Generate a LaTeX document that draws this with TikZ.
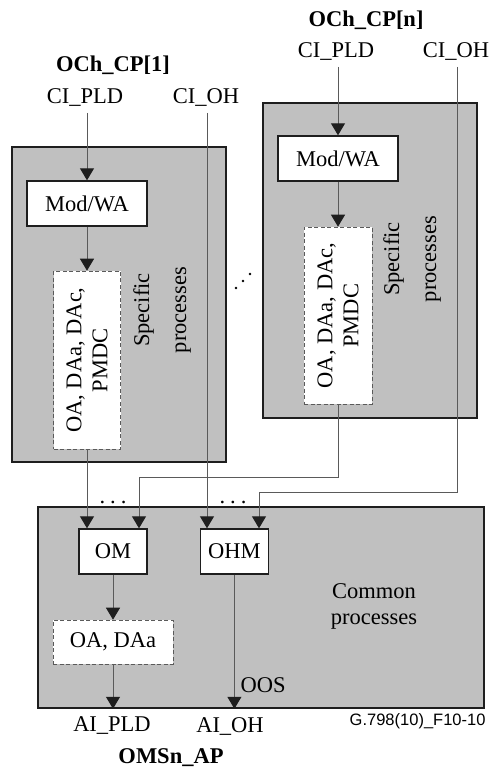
\documentclass[tikz,border=0pt]{standalone}
\usepackage{fontspec}
\setmainfont{Liberation Serif}
\newfontfamily\figsans{Liberation Sans}
\usepackage{xcolor}
\usepackage{tikz}
\usetikzlibrary{arrows.meta, positioning, calc}
\definecolor{procgray}{RGB}{192,192,192}
\definecolor{linegray}{RGB}{90,90,90}
\definecolor{edgegray}{RGB}{30,30,30}
\newcommand{\diagfont}{\fontsize{22.5}{26}\selectfont}
\tikzstyle{region} = [rectangle, draw=edgegray, line width=1.6pt, fill=procgray,
    inner sep=0pt]
\tikzstyle{block} = [rectangle, draw=edgegray, line width=1.4pt, fill=white,
    minimum width=120pt, minimum height=45pt, inner sep=0pt]
\tikzstyle{smallblock} = [block, minimum width=68pt]
\tikzstyle{optblock} = [block, draw=linegray, line width=0.9pt,
    dash pattern=on 4pt off 2.5pt]
\tikzstyle{sig} = [inner sep=1pt, outer sep=5pt]
\tikzstyle{aplabel} = [sig, font=\diagfont\bfseries]
\tikzstyle{line} = [draw=linegray, line width=1pt]
\tikzstyle{arrow} = [line, -{Triangle[width=14pt,length=12pt,color=edgegray]}]

\begin{document}
\begin{tikzpicture}[x=1pt, y=-1pt, node distance=44pt, font=\diagfont]
  \useasboundingbox (0,0) rectangle (490,771);

  % grey process areas
  \node[region, minimum width=214pt, minimum height=315pt](speca) at (119,304.5){};
  \node[region, minimum width=214pt, minimum height=315pt](specn) at (370,260.5){};
  \node[region, minimum width=446pt, minimum height=201pt](common) at (261,607.5){};

  % OCh_CP[1]
  \node[aplabel](ocha) at (113,65){OCh\_CP[1]};
  \node[sig](ciplda) at (85,98){CI\_PLD};
  \node[sig](cioha) at (206,98){CI\_OH};
  \node[block](moda) at (87,203.5){Mod/WA};
  \node[optblock, minimum width=67pt, minimum height=178pt, below=of moda](dasha){};
  \node[rotate=90, align=center] at (dasha){OA, DAa, DAc,\\PMDC};
  \node[rotate=90, align=center](spectxta) at (162,310){Specific\\[11pt]processes};

  % OCh_CP[n]
  \node[aplabel](ochn) at (366,20){OCh\_CP[n]};
  \node[sig](cipldn) at (336,52){CI\_PLD};
  \node[sig](ciohn) at (456,52){CI\_OH};
  \node[block](modn) at (338,158.5){Mod/WA};
  \node[optblock, minimum width=68pt, minimum height=177pt, below=45pt of modn](dashn){};
  \node[rotate=90, align=center] at (dashn){OA, DAa, DAc,\\PMDC};
  \node[rotate=90, align=center](spectxtn) at (412,259){Specific\\[11pt]processes};

  % further OCh_CP in between
  \foreach \d in {-7,0,7}
    \fill[black] (243+\d,281-\d) circle (1.4pt);

  % OMSn_AP common part
  \node[smallblock](om) at (113,551.5){OM};
  \node[smallblock, right=52pt of om](ohm){OHM};
  \node[optblock, minimum height=44pt, below=45pt of om](oadaa){OA, DAa};
  \node[align=center](commontxt) at (374,606){Common\\processes};
  \node[anchor=west](oos) at (237,685){OOS};
  \node(dotspld) at (113,502){.\hspace{5pt}.\hspace{5pt}.};
  \node(dotsoh) at (233,502){.\hspace{5pt}.\hspace{5pt}.};

  \node[sig](aipld) at (112,726){AI\_PLD};
  \node[sig](aioh) at (230,726){AI\_OH};
  \node[aplabel](omsap) at (171,758){OMSn\_AP};
  \node[anchor=east, font=\figsans\fontsize{16.5}{18}\selectfont](figid) at (489,721)
    {G.798(10)\_F10-10};

  \coordinate(jpld) at (139,477);
  \coordinate(joh) at (259,492);

  \draw[arrow](moda.north |- ciplda.south)--(moda.north);
  \draw[arrow](moda)--(dasha);
  \draw[arrow](dasha.south)--(dasha.south |- om.north);
  \draw[arrow](cioha.south -| 207,0)--(207,0 |- ohm.north);
  \draw[arrow](modn.north |- cipldn.south)--(modn.north);
  \draw[arrow](modn)--(dashn);
  \draw[arrow](dashn.south)|-(jpld)--(jpld |- om.north);
  \draw[arrow](ciohn.south -| 457,0)|-(joh)--(joh |- ohm.north);
  \draw[arrow](om)--(oadaa);
  \draw[arrow](oadaa.south)--(oadaa.south |- common.south);
  \draw[arrow](ohm.south)--(ohm.south |- common.south);
\end{tikzpicture}
\end{document}
